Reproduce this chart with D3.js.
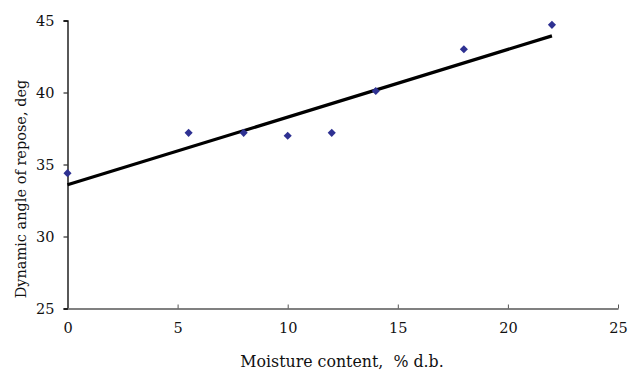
<!DOCTYPE html>
<html><head><meta charset="utf-8">
<script src="https://cdn.jsdelivr.net/npm/d3@7"></script>
<style>body{margin:0;background:#fff}svg{display:block}text{font-family:"DejaVu Serif",serif;fill:#111;white-space:pre}</style>
</head><body>
<svg id="c" width="638" height="372"></svg>
<script>
const moisture = [0, 5.5, 8, 10, 12, 14, 18, 22];
const angle = [34.4, 37.2, 37.2, 37.0, 37.2, 40.1, 43.0, 44.7];
const xTicks = [0, 5, 10, 15, 20, 25];
const yTicks = [25, 30, 35, 40, 45];
const xTitle = "Moisture content,  % d.b.";
const yTitle = "Dynamic angle of repose, deg";

const svg = d3.select("#c");
const x = d3.scaleLinear().domain([0, 25]).range([67.5, 618]);
const y = d3.scaleLinear().domain([25, 45]).range([308.5, 20.5]);

// y axis
const ya = svg.append("g").attr("transform", "translate(67.5,0)")
  .call(d3.axisLeft(y).tickValues(yTicks).tickSize(4).tickPadding(9).tickFormat(d3.format("d")));
ya.select(".domain").attr("stroke", "#000").attr("stroke-width", 1.3);
ya.selectAll(".tick line").attr("stroke", "#000");
ya.selectAll("text").attr("font-size", 14.5).attr("font-family", "DejaVu Serif");

// x axis
const xa = svg.append("g").attr("transform", "translate(0,308.5)")
  .call(d3.axisBottom(x).tickValues(xTicks).tickSizeInner(-4).tickSizeOuter(0).tickPadding(14).tickFormat(d3.format("d")));
xa.select(".domain").attr("stroke", "#808080").attr("stroke-width", 2);
xa.selectAll(".tick line").attr("stroke", "#555");
xa.selectAll("text").attr("font-size", 14.5).attr("font-family", "DejaVu Serif");

// regression line
const n = moisture.length;
const mx = d3.mean(moisture), my = d3.mean(angle);
let sxy = 0, sxx = 0;
for (let i = 0; i < n; i++) { sxy += (moisture[i]-mx)*(angle[i]-my); sxx += (moisture[i]-mx)**2; }
const slope = sxy/sxx, icpt = my - slope*mx;
const xr = d3.extent(moisture);
svg.append("line")
  .attr("x1", x(xr[0])).attr("y1", y(icpt + slope*xr[0]))
  .attr("x2", x(xr[1])).attr("y2", y(icpt + slope*xr[1]))
  .attr("stroke", "#000").attr("stroke-width", 3.2);

// points
svg.append("g").selectAll("path").data(moisture).join("path")
  .attr("d", d3.symbol(d3.symbolDiamond2, 42)())
  .attr("transform", (d,i) => `translate(${x(d)},${y(angle[i])})`)
  .attr("fill", "#2E3192");

// titles
svg.append("text").attr("x", 342).attr("y", 367).attr("text-anchor", "middle")
  .attr("font-size", 15.8).text(xTitle);
svg.append("text").attr("transform", "translate(26,189) rotate(-90)").attr("text-anchor", "middle")
  .attr("font-size", 14.5).text(yTitle);
</script>
</body></html>
